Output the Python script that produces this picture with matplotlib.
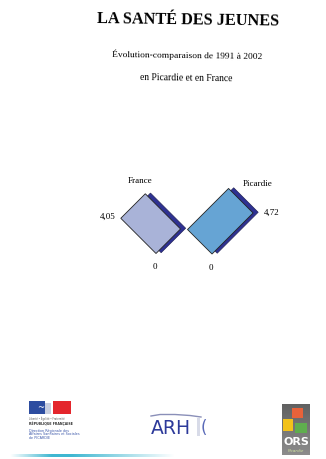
import matplotlib

matplotlib.use("Agg")
import matplotlib.pyplot as plt
import numpy as np
from matplotlib.patches import Rectangle
from matplotlib.transforms import Affine2D

# data
regions = ["France", "Picardie"]
values = [4.05, 4.72]
value_labels = ["4,05", "4,72"]
baseline_labels = ["0", "0"]

title = "LA SANTÉ DES JEUNES"
subtitle_1 = "Évolution-comparaison de 1991 à 2002"
subtitle_2 = "en Picardie et en France"

W, H = 326, 459
PX = 12.3          # pixels per value unit
BAR_W = 2.82       # bar width in value units
face_colors = ["#a9b3d8", "#66a4d4"]
depth_color = "#2e3192"
serif = "Liberation Serif"

fig = plt.figure(figsize=(W / 100, H / 100), dpi=100)
fig.patch.set_facecolor("white")

# page axes in pixel coordinates (y down)
page = fig.add_axes([0, 0, 1, 1])
page.set_xlim(0, W)
page.set_ylim(H, 0)
page.axis("off")

page.text(188.5, 20, title, ha="center", va="center", fontsize=11.7,
          fontweight="bold", family=serif, rotation=-0.8)
page.text(187, 55, subtitle_1, ha="center", va="center", fontsize=6.8,
          family=serif, rotation=-0.8)
page.text(186, 78, subtitle_2, ha="center", va="center", fontsize=6.9,
          family=serif, rotation=-0.8)

# chart axes in value units, same scale on both directions
ax = fig.add_axes([0, 0, 1, 1])
ax.set_xlim(0, W / PX)
ax.set_ylim(0, H / PX)
ax.axis("off")
ax.patch.set_alpha(0)


def to_data(px, py):
    return px / PX, (H - py) / PX


# each bar is an ordinary bar, turned by +/-45 degrees about its base corner
bases = [to_data(156, 253.5), to_data(187.5, 229.5)]
angles = [45, -45]
for i, (name, val) in enumerate(zip(regions, values)):
    bx, by = bases[i]
    rot = Affine2D().rotate_deg(angles[i]).translate(bx, by)
    depth = rot + Affine2D().translate(0.42, 0.06) + ax.transData
    trans = rot + ax.transData
    ax.bar([0], [val], width=BAR_W, align="edge", color=depth_color,
           edgecolor="#1a1a4a", linewidth=0.4, transform=depth)
    ax.bar([0], [val], width=BAR_W, align="edge", color=face_colors[i],
           edgecolor="#222222", linewidth=0.6, transform=trans)

    if i == 0:
        # France grows to the upper left
        ax.annotate(value_labels[i], (0, val), xycoords=trans,
                    xytext=(-4, 1), textcoords="offset points",
                    ha="right", va="center", fontsize=6.5, family=serif)
        ax.annotate(baseline_labels[i], (0, 0), xycoords=trans,
                    xytext=(-0.5, -7), textcoords="offset points",
                    ha="center", va="top", fontsize=6.5, family=serif)
        ax.annotate(name, (BAR_W, val), xycoords=trans,
                    xytext=(-4, 6), textcoords="offset points",
                    ha="center", va="bottom", fontsize=6.5, family=serif)
    else:
        # Picardie grows to the upper right
        ax.annotate(value_labels[i], (BAR_W, val), xycoords=trans,
                    xytext=(8, 0), textcoords="offset points",
                    ha="left", va="center", fontsize=6.5, family=serif)
        ax.annotate(baseline_labels[i], (BAR_W, 0), xycoords=trans,
                    xytext=(-1, -7), textcoords="offset points",
                    ha="center", va="top", fontsize=6.5, family=serif)
        ax.annotate(name, (0, val), xycoords=trans,
                    xytext=(21, 0), textcoords="offset points",
                    ha="center", va="bottom", fontsize=6.5, family=serif)

# --- logos at the foot of the page, drawn roughly ---
# Marianne block
page.add_patch(Rectangle((29, 401), 16, 13, color="#2d4da0", lw=0))
page.add_patch(Rectangle((53, 401), 18, 13, color="#e4262c", lw=0))
page.text(41, 408, "~", ha="center", va="center", fontsize=6, color="white")
page.add_patch(Rectangle((45, 403), 6, 11, color="#c9cfe0", lw=0))
page.text(29, 419, "Liberté • Égalité • Fraternité", fontsize=1.8,
          color="#555555", va="center")
page.text(29, 424, "RÉPUBLIQUE FRANÇAISE", fontsize=2.3, color="#333333",
          fontweight="bold", va="center")
for k, line in enumerate(["Direction Régionale des",
                          "Affaires Sanitaires et Sociales",
                          "de PICARDIE"]):
    page.text(29, 430.7 + k * 3.7, line, fontsize=2.4, color="#3a56a8",
              va="center")

# ARH
page.plot([151, 160, 175, 190, 201], [416, 414.5, 414.5, 415.5, 417],
          color="#8a8fb8", lw=1.0)
page.text(150.5, 428, "ARH", fontsize=13.5, color="#2d3a9a", va="center",
          family="DejaVu Sans")
page.add_patch(Rectangle((197, 418), 3, 18, color="#d8dbe8", lw=0))
page.text(201, 428, "(", fontsize=12, color="#5a6ab8", va="center",
          family="DejaVu Sans")

# ORS
shade = np.linspace(0.38, 0.55, 50)[:, None] * np.ones((50, 2))
page.imshow(np.dstack([shade] * 3), extent=(282, 310, 455, 404),
            aspect="auto")
page.add_patch(Rectangle((292, 408), 11, 10, color="#e8623a", lw=0))
page.add_patch(Rectangle((283, 419), 10, 12, color="#f2c21a", lw=0))
page.add_patch(Rectangle((295, 423), 12, 10, color="#5fae4e", lw=0))
page.text(296, 442, "ORS", ha="center", va="center", fontsize=8,
          color="white", fontweight="bold", family="DejaVu Sans")
page.text(296, 451, "Picardie", ha="center", va="center", fontsize=3,
          color="#cfe3a0", style="italic")

# fading rule along the bottom
grad = np.linspace(0, 1, 200)
rgba = np.zeros((1, 200, 4))
rgba[..., 0] = 0.25
rgba[..., 1] = 0.72
rgba[..., 2] = 0.82
rgba[..., 3] = np.clip(np.minimum(grad * 4, (1 - grad) * 1.6), 0, 1)
page.imshow(rgba, extent=(10, 175, 457, 454), aspect="auto",
            interpolation="bilinear")
page.set_xlim(0, W)
page.set_ylim(H, 0)

fig.savefig("out.png", dpi=100, facecolor="white")
